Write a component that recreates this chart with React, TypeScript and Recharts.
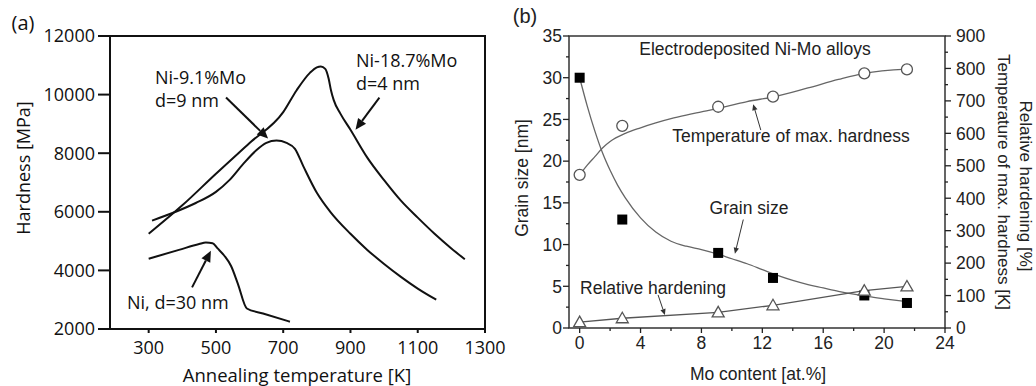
import React from 'react';
import {
  ComposedChart,
  Line,
  Scatter,
  XAxis,
  YAxis,
  ReferenceLine,
  ReferenceArea,
} from 'recharts';

// ---- (a) hardness vs annealing temperature ----
const ni187Temp = [300, 400, 500, 600, 700, 740, 780, 800, 812, 825, 835, 842, 850, 870, 900, 950, 1000, 1050, 1100, 1150, 1200, 1240];
const ni187Hard = [5250, 6220, 7300, 8350, 9400, 10150, 10750, 10930, 10960, 10880, 10550, 10150, 9820, 9350, 8800, 7850, 7080, 6380, 5800, 5250, 4750, 4380];
const ni91Temp = [310, 380, 440, 500, 540, 580, 620, 650, 680, 710, 735, 760, 800, 840, 900, 950, 1000, 1050, 1100, 1155];
const ni91Hard = [5700, 6000, 6300, 6680, 7080, 7620, 8100, 8350, 8430, 8350, 8150, 7550, 6650, 6000, 5250, 4700, 4220, 3780, 3380, 3000];
const niTemp = [300, 390, 450, 470, 490, 505, 525, 545, 565, 592, 640, 720];
const niHard = [4400, 4700, 4900, 4950, 4930, 4750, 4500, 4150, 3550, 2700, 2530, 2250];
const annealTicks = [300, 500, 700, 900, 1100, 1300];
const hardTicks = [2000, 4000, 6000, 8000, 10000, 12000];

// ---- (b) Ni-Mo alloys vs Mo content ----
const moContent = [0, 2.8, 9.1, 12.7, 18.7, 21.5];
const grainSize = [30, 13, 9, 6, 3.9, 3];
const tempOfMax = [472, 623, 682, 713, 785, 797];
const relHardening = [18, 30, 48, 70, 115, 128];
const grainFitMo = [0, 0.5, 1, 1.5, 2, 2.5, 3, 4, 5, 6, 7, 8, 9, 10, 11, 12, 13, 14, 15, 16, 17, 18, 19, 20, 21.5];
const grainFitVal = [30, 26.6, 23.6, 21.0, 18.9, 17.1, 15.6, 13.2, 11.5, 10.4, 9.8, 9.4, 8.9, 8.3, 7.7, 7.0, 6.3, 5.7, 5.2, 4.8, 4.4, 4.05, 3.75, 3.5, 3.15];
const tempFitMo = [0, 0.5, 1, 1.5, 2, 3, 4, 5, 6, 7, 8, 9, 10, 11, 12.7, 15, 17, 18.7, 21.5];
const tempFitVal = [472, 502, 528, 555, 575, 600, 617, 632, 645, 656, 666, 676, 687, 698, 712, 740, 766, 785, 798];
const moTicks = [0, 2, 4, 6, 8, 10, 12, 14, 16, 18, 20, 22, 24];
const grainTicks = [0, 2.5, 5, 7.5, 10, 12.5, 15, 17.5, 20, 22.5, 25, 27.5, 30, 32.5, 35];
const rightTicks = [0, 50, 100, 150, 200, 250, 300, 350, 400, 450, 500, 550, 600, 650, 700, 750, 800, 850, 900];

const zip = (xs: number[], ys: number[]) => xs.map((x, i) => ({ x, y: ys[i] }));

const FONT_A = '"Open Sans", sans-serif';
const FONT_B = '"Liberation Sans", Arial, sans-serif';

type TickOpts = {
  side: 'left' | 'right' | 'bottom';
  majorEvery: number;
  majorLen: number;
  minorLen: number;
  gap: number;
  size: number;
  font: string;
  color: string;
  width: number;
};

const makeTick = (o: TickOpts) => (props: any) => {
  const { x, y, payload } = props;
  const v = payload.value;
  const major = Math.abs(v / o.majorEvery - Math.round(v / o.majorEvery)) < 1e-6;
  const len = major ? o.majorLen : o.minorLen;
  const cap = o.size * 0.72;
  const txt = { fontFamily: o.font, fontSize: o.size, fill: o.color };
  if (o.side === 'bottom') {
    return (
      <g>
        <line x1={x} y1={y} x2={x} y2={y + len} stroke={o.color} strokeWidth={o.width} />
        {major && <text x={x} y={y + len + o.gap + cap} textAnchor="middle" {...txt}>{v}</text>}
      </g>
    );
  }
  if (o.side === 'left') {
    return (
      <g>
        <line x1={x} y1={y} x2={x - len} y2={y} stroke={o.color} strokeWidth={o.width} />
        {major && <text x={x - o.majorLen - o.gap} y={y + cap / 2} textAnchor="end" {...txt}>{v}</text>}
      </g>
    );
  }
  return (
    <g>
      <line x1={x} y1={y} x2={x + len} y2={y} stroke={o.color} strokeWidth={o.width} />
      {major && <text x={x + o.majorLen + o.gap} y={y + cap / 2} textAnchor="start" {...txt}>{v}</text>}
    </g>
  );
};

// line with a filled head, drawn between the two scaled segment ends
const arrowShape = (w: number, head: number, color: string) => (p: any) => {
  const { x1, y1, x2, y2 } = p;
  const ang = Math.atan2(y2 - y1, x2 - x1);
  const bx = x2 - head * Math.cos(ang);
  const by = y2 - head * Math.sin(ang);
  const hw = head * 0.45;
  const px = -Math.sin(ang) * hw;
  const py = Math.cos(ang) * hw;
  return (
    <g>
      <line x1={x1} y1={y1} x2={bx} y2={by} stroke={color} strokeWidth={w} />
      <polygon points={`${x2},${y2} ${bx + px},${by + py} ${bx - px},${by - py}`} fill={color} />
    </g>
  );
};

const squareShape = (p: any) => <rect x={p.cx - 5} y={p.cy - 5} width={10} height={10} fill="#000" />;
const circleShape = (p: any) => <circle cx={p.cx} cy={p.cy} r={5.5} fill="#fff" stroke="#555" strokeWidth={1.3} />;
const triShape = (p: any) => (
  <polygon
    points={`${p.cx},${p.cy - 6} ${p.cx - 6},${p.cy + 4.5} ${p.cx + 6},${p.cy + 4.5}`}
    fill="#fff"
    stroke="#555"
    strokeWidth={1.3}
  />
);

function Txt({ x, y, children, size, font, rotate = 0, anchor = 'center', color = '#111' }: any) {
  const tx = anchor === 'left' ? '0' : '-50%';
  return (
    <div
      style={{
        position: 'absolute',
        left: x,
        top: y,
        transform: `translate(${tx}, -50%) rotate(${rotate}deg)`,
        fontFamily: font,
        fontSize: size,
        lineHeight: 1,
        whiteSpace: 'nowrap',
        color,
      }}
    >
      {children}
    </div>
  );
}

export default function App() {
  const tA = { size: 18, font: FONT_A, color: '#111', width: 2 };
  const tB = { size: 17.5, font: FONT_B, color: '#222', width: 1.3 };
  return (
    <div style={{ position: 'absolute', left: 0, top: 0, width: 1036, height: 386, background: '#fff', overflow: 'hidden' }}>
      <div style={{ position: 'absolute', left: 0, top: 0 }}>
        <ComposedChart width={520} height={386} margin={{ top: 36, right: 35, bottom: 56, left: 109 }}>
          <XAxis
            type="number" dataKey="x" domain={[185, 1300]} ticks={annealTicks} interval={0}
            axisLine={false} tickLine={false} tickSize={0} tickMargin={0} height={1} allowDataOverflow
            tick={makeTick({ side: 'bottom', majorEvery: 100, majorLen: 4, minorLen: 4, gap: 8.5, ...tA })}
          />
          <YAxis
            type="number" dataKey="y" domain={[2000, 12000]} ticks={hardTicks} interval={0}
            axisLine={false} tickLine={false} tickSize={0} tickMargin={0} width={1} allowDataOverflow
            tick={makeTick({ side: 'left', majorEvery: 2000, majorLen: 12, minorLen: 12, gap: 3, ...tA })}
          />
          <ReferenceArea x1={185} x2={1300} y1={2000} y2={12000} fill="none" stroke="#111" strokeWidth={2} ifOverflow="visible" />
          <Line data={zip(ni187Temp, ni187Hard)} dataKey="y" type="monotone" stroke="#111" strokeWidth={2} dot={false} isAnimationActive={false} />
          <Line data={zip(ni91Temp, ni91Hard)} dataKey="y" type="monotone" stroke="#111" strokeWidth={2} dot={false} isAnimationActive={false} />
          <Line data={zip(niTemp, niHard)} dataKey="y" type="monotone" stroke="#111" strokeWidth={2} dot={false} isAnimationActive={false} />
          <ReferenceLine segment={[{ x: 530, y: 9900 }, { x: 655, y: 8500 }]} shape={arrowShape(2, 11, '#111')} ifOverflow="visible" />
          <ReferenceLine segment={[{ x: 986, y: 9900 }, { x: 915, y: 8800 }]} shape={arrowShape(2, 11, '#111')} ifOverflow="visible" />
          <ReferenceLine segment={[{ x: 429, y: 3420 }, { x: 485, y: 4670 }]} shape={arrowShape(2, 11, '#111')} ifOverflow="visible" />
        </ComposedChart>
      </div>

      <div style={{ position: 'absolute', left: 500, top: 0 }}>
        <ComposedChart width={536} height={386} margin={{ top: 36, right: 90, bottom: 57, left: 68 }}>
          <XAxis
            type="number" dataKey="x" domain={[-0.7, 24]} ticks={moTicks} interval={0}
            axisLine={false} tickLine={false} tickSize={0} tickMargin={0} height={1} allowDataOverflow
            tick={makeTick({ side: 'bottom', majorEvery: 4, majorLen: 5, minorLen: 3, gap: 3.7, ...tB })}
          />
          <YAxis
            yAxisId="g" type="number" dataKey="y" domain={[0, 35]} ticks={grainTicks} interval={0}
            axisLine={false} tickLine={false} tickSize={0} tickMargin={0} width={1} allowDataOverflow
            tick={makeTick({ side: 'left', majorEvery: 5, majorLen: 6, minorLen: 3, gap: 1, ...tB })}
          />
          <YAxis
            yAxisId="t" orientation="right" type="number" dataKey="y" domain={[0, 900]} ticks={rightTicks} interval={0}
            axisLine={false} tickLine={false} tickSize={0} tickMargin={0} width={1} allowDataOverflow
            tick={makeTick({ side: 'right', majorEvery: 100, majorLen: 6, minorLen: 3, gap: 5, ...tB })}
          />
          <ReferenceArea yAxisId="g" x1={-0.7} x2={24} y1={0} y2={35} fill="none" stroke="#333" strokeWidth={1.5} ifOverflow="visible" />
          <Line yAxisId="g" data={zip(grainFitMo, grainFitVal)} dataKey="y" type="monotone" stroke="#666" strokeWidth={1.3} dot={false} isAnimationActive={false} />
          <Line yAxisId="t" data={zip(tempFitMo, tempFitVal)} dataKey="y" type="monotone" stroke="#666" strokeWidth={1.3} dot={false} isAnimationActive={false} />
          <Line yAxisId="t" data={zip(moContent, relHardening)} dataKey="y" type="linear" stroke="#555" strokeWidth={1.3} dot={false} isAnimationActive={false} />
          <Scatter yAxisId="g" data={zip(moContent, grainSize)} shape={squareShape} isAnimationActive={false} />
          <Scatter yAxisId="t" data={zip(moContent, tempOfMax)} shape={circleShape} isAnimationActive={false} />
          <Scatter yAxisId="t" data={zip(moContent, relHardening)} shape={triShape} isAnimationActive={false} />
          <ReferenceLine yAxisId="t" segment={[{ x: 11.9, y: 610 }, { x: 11.4, y: 690 }]} shape={arrowShape(1, 6, '#333')} ifOverflow="visible" />
          <ReferenceLine yAxisId="g" segment={[{ x: 10.75, y: 13 }, { x: 10.2, y: 8.9 }]} shape={arrowShape(1, 6, '#333')} ifOverflow="visible" />
          <ReferenceLine yAxisId="t" segment={[{ x: 5.15, y: 102 }, { x: 5.6, y: 40 }]} shape={arrowShape(1, 6, '#333')} ifOverflow="visible" />
        </ComposedChart>
      </div>

      {/* panel (a) text */}
      <Txt x={23} y={23} size={20} font={FONT_A}>(a)</Txt>
      <Txt x={23} y={168} size={18} font={FONT_A} rotate={-90}>Hardness [MPa]</Txt>
      <Txt x={297} y={375} size={18.5} font={FONT_A}>Annealing temperature [K]</Txt>
      <Txt x={155} y={77} size={18} font={FONT_A} anchor="left">Ni-9.1%Mo</Txt>
      <Txt x={155} y={100} size={18} font={FONT_A} anchor="left">d=9 nm</Txt>
      <Txt x={356} y={60} size={18} font={FONT_A} anchor="left">Ni-18.7%Mo</Txt>
      <Txt x={356} y={83} size={18} font={FONT_A} anchor="left">d=4 nm</Txt>
      <Txt x={127} y={302} size={18} font={FONT_A} anchor="left">Ni, d=30 nm</Txt>

      {/* panel (b) text */}
      <Txt x={525} y={16} size={20} font={FONT_B} color="#222">(b)</Txt>
      <Txt x={755} y={50} size={17.5} font={FONT_B} color="#222">Electrodeposited Ni-Mo alloys</Txt>
      <Txt x={791} y={137} size={17.5} font={FONT_B} color="#222">Temperature of max. hardness</Txt>
      <Txt x={749} y={209} size={17.5} font={FONT_B} color="#222">Grain size</Txt>
      <Txt x={653} y={289} size={17.5} font={FONT_B} color="#222">Relative hardening</Txt>
      <Txt x={523} y={178} size={17.5} font={FONT_B} color="#222" rotate={-90}>Grain size [nm]</Txt>
      <Txt x={758} y={375} size={17.5} font={FONT_B} color="#222">Mo content [at.%]</Txt>
      <Txt x={1003} y={182} size={17} font={FONT_B} color="#222" rotate={90}>Temperature of max. hardness [K]</Txt>
      <Txt x={1025} y={186} size={17} font={FONT_B} color="#222" rotate={90}>Relative hardening [%]</Txt>
    </div>
  );
}
